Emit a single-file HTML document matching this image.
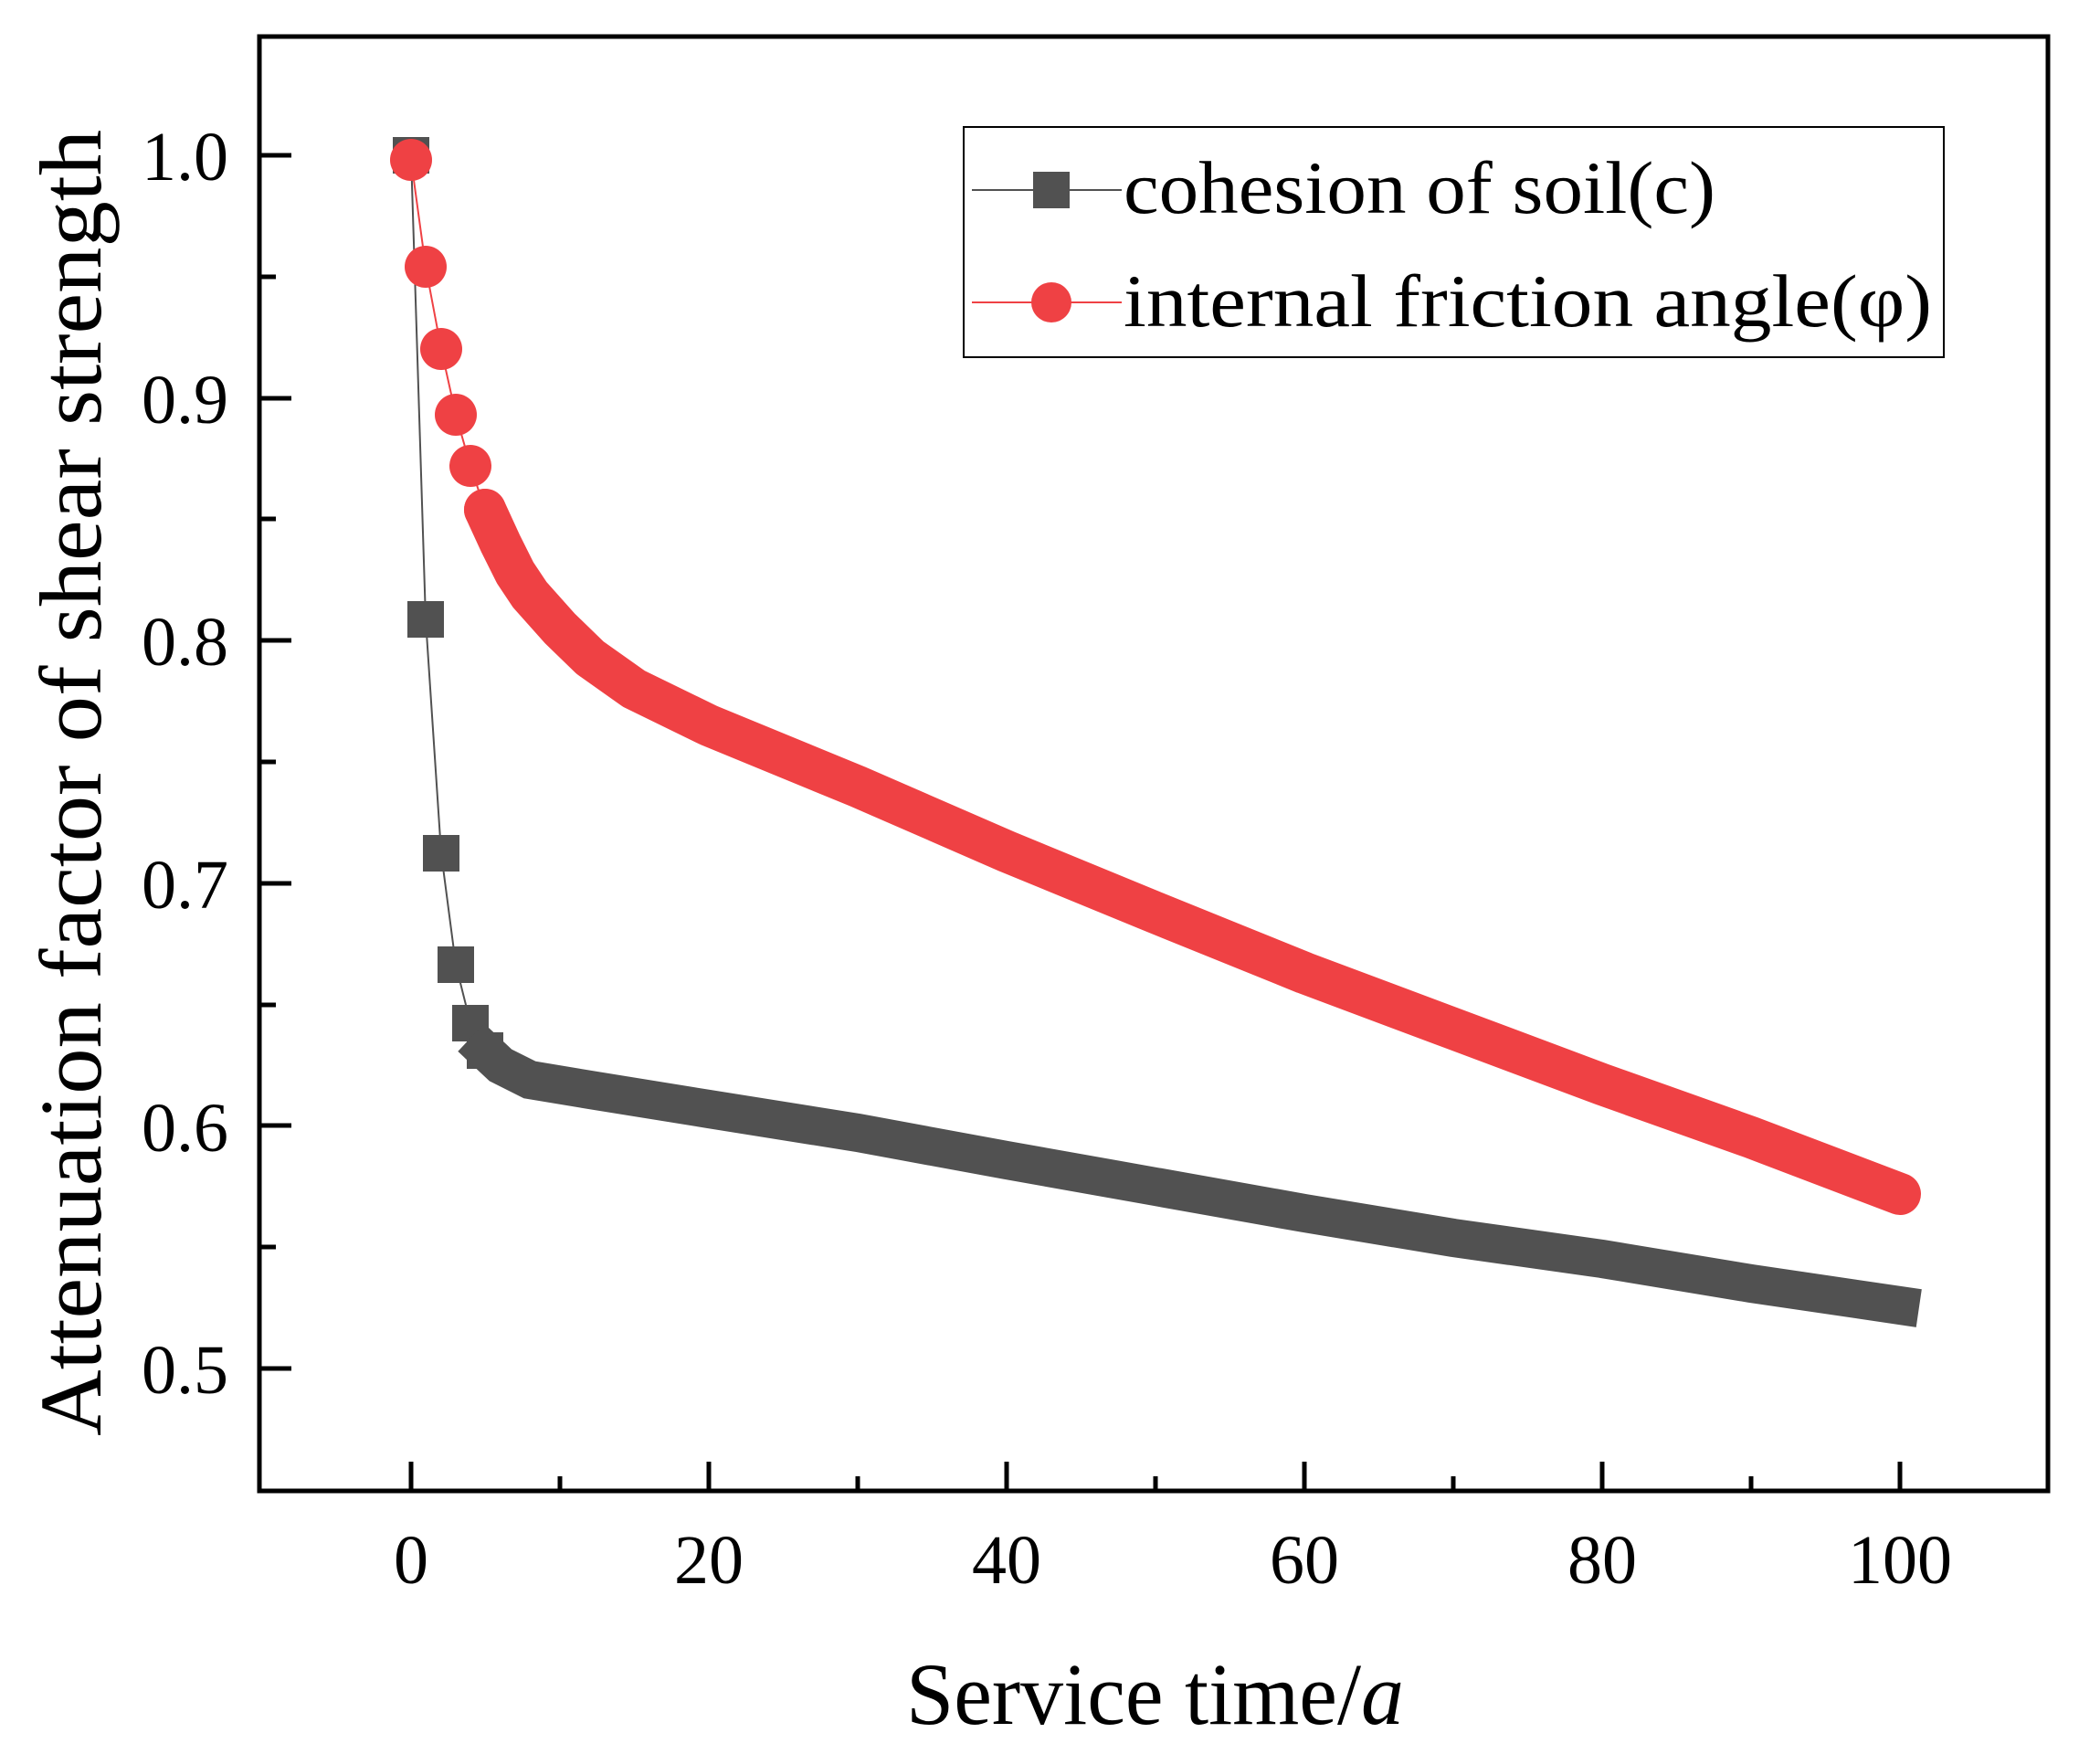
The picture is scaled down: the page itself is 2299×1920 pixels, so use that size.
<!DOCTYPE html>
<html><head><meta charset="utf-8"><style>html,body{margin:0;padding:0;background:#fff}svg{display:block}</style></head>
<body>
<svg width="2299" height="1920" viewBox="0 0 2299 1920" xmlns="http://www.w3.org/2000/svg" font-family="'Liberation Serif', serif">
<rect width="2299" height="1920" fill="#fff"/>
<path d="M450,170 L466,678 L483,934 L499,1056 L515,1120 L531,1150 L548,1166 L580,1182 L646,1193 L776,1214 L939,1240 L1102,1270 L1265,1299 L1428,1328 L1591,1355 L1754,1378 L1917,1405 L2080,1429" fill="none" stroke="#515151" stroke-width="2"/>
<g fill="#515151">
<rect x="430" y="150" width="40" height="40"/>
<rect x="446" y="658" width="40" height="40"/>
<rect x="463" y="914" width="40" height="40"/>
<rect x="479" y="1036" width="40" height="40"/>
<rect x="495" y="1100" width="40" height="40"/>
<rect x="511" y="1130" width="40" height="40"/>
</g>
<path d="M531,1150 L548,1166 L580,1182 L646,1193 L776,1214 L939,1240 L1102,1270 L1265,1299 L1428,1328 L1591,1355 L1754,1378 L1917,1405 L2080,1429" fill="none" stroke="#515151" stroke-width="42" stroke-linejoin="miter" stroke-linecap="square"/>
<path d="M450,175 L466,292 L483,382 L499,454 L515,510 L531,558 L548,595 L564,627 L580,651 L613,688 L646,720 L694,754 L776,794 L939,861 L1102,932 L1265,999 L1428,1065 L1591,1126 L1754,1187 L1917,1245 L2080,1307" fill="none" stroke="#EF4144" stroke-width="2"/>
<g fill="#EF4144">
<circle cx="450" cy="175" r="23"/>
<circle cx="466" cy="292" r="23"/>
<circle cx="483" cy="382" r="23"/>
<circle cx="499" cy="454" r="23"/>
<circle cx="515" cy="510" r="23"/>
<circle cx="531" cy="558" r="23"/>
</g>
<path d="M531,558 L548,595 L564,627 L580,651 L613,688 L646,720 L694,754 L776,794 L939,861 L1102,932 L1265,999 L1428,1065 L1591,1126 L1754,1187 L1917,1245 L2080,1307" fill="none" stroke="#EF4144" stroke-width="46" stroke-linejoin="round" stroke-linecap="round"/>
<rect x="284" y="40" width="1958" height="1592" fill="none" stroke="#000" stroke-width="5"/>
<g stroke="#000" stroke-width="5">
<line x1="450" y1="1632" x2="450" y2="1600"/><line x1="613" y1="1632" x2="613" y2="1616"/>
<line x1="776" y1="1632" x2="776" y2="1600"/><line x1="939" y1="1632" x2="939" y2="1616"/>
<line x1="1102" y1="1632" x2="1102" y2="1600"/><line x1="1265" y1="1632" x2="1265" y2="1616"/>
<line x1="1428" y1="1632" x2="1428" y2="1600"/><line x1="1591" y1="1632" x2="1591" y2="1616"/>
<line x1="1754" y1="1632" x2="1754" y2="1600"/><line x1="1917" y1="1632" x2="1917" y2="1616"/>
<line x1="2080" y1="1632" x2="2080" y2="1600"/>
<line x1="284" y1="170" x2="319" y2="170"/><line x1="284" y1="303" x2="302" y2="303"/>
<line x1="284" y1="436" x2="319" y2="436"/><line x1="284" y1="568" x2="302" y2="568"/>
<line x1="284" y1="701" x2="319" y2="701"/><line x1="284" y1="834" x2="302" y2="834"/>
<line x1="284" y1="967" x2="319" y2="967"/><line x1="284" y1="1100" x2="302" y2="1100"/>
<line x1="284" y1="1232" x2="319" y2="1232"/><line x1="284" y1="1365" x2="302" y2="1365"/>
<line x1="284" y1="1498" x2="319" y2="1498"/>
</g>
<g font-size="76" fill="#000" text-anchor="middle">
<text x="450" y="1733">0</text><text x="776" y="1733">20</text><text x="1102" y="1733">40</text>
<text x="1428" y="1733">60</text><text x="1754" y="1733">80</text><text x="2080" y="1733">100</text>
</g>
<g font-size="76" fill="#000" text-anchor="end">
<text x="250" y="197">1.0</text><text x="250" y="463">0.9</text><text x="250" y="728">0.8</text>
<text x="250" y="994">0.7</text><text x="250" y="1260">0.6</text><text x="250" y="1525">0.5</text>
</g>
<text x="992" y="1887" font-size="96" textLength="545" lengthAdjust="spacingAndGlyphs">Service time/<tspan font-style="italic">a</tspan></text>
<text transform="translate(110,857) rotate(-90)" text-anchor="middle" font-size="96" textLength="1430" lengthAdjust="spacingAndGlyphs">Attenuation factor of shear strength</text>
<rect x="1055" y="139" width="1073" height="252" fill="#fff" stroke="#000" stroke-width="2"/>
<line x1="1064" y1="208" x2="1228" y2="208" stroke="#515151" stroke-width="2"/>
<rect x="1131" y="188" width="40" height="40" fill="#515151"/>
<line x1="1064" y1="331" x2="1228" y2="331" stroke="#EF4144" stroke-width="2"/>
<circle cx="1151" cy="331" r="22" fill="#EF4144"/>
<text x="1230" y="233" font-size="82" textLength="648" lengthAdjust="spacingAndGlyphs">cohesion of soil(c)</text>
<text x="1230" y="357" font-size="82" textLength="885" lengthAdjust="spacingAndGlyphs">internal friction angle(φ)</text>
</svg>
</body></html>
